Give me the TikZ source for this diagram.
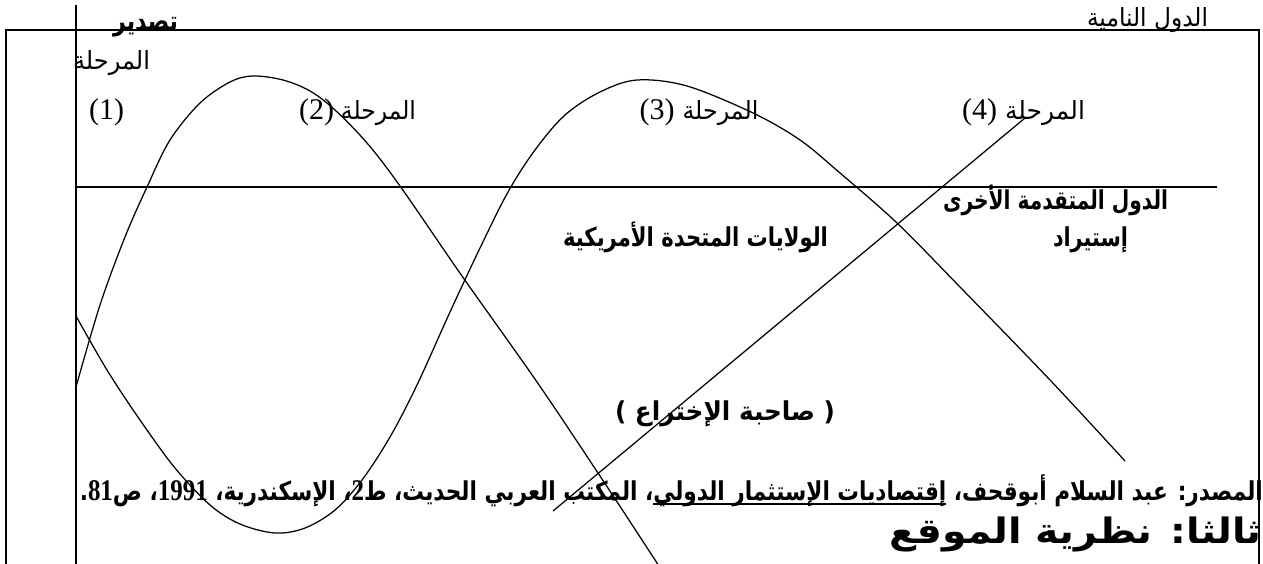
\documentclass[tikz,border=0pt]{standalone}
\usepackage{fontspec}
\usepackage{graphicx}
\setmainfont{Liberation Serif}
\newfontfamily\arabicfont[Script=Arabic]{DejaVu Sans}
\newfontfamily\dejafont{DejaVu Sans}
\newfontfamily\latfont{Liberation Serif}
\TeXXeTstate=1
\newlength\natw
\newcommand\fitto[2]{\settowidth\natw{#2}\pgfmathsetmacro\fitsx{#1/\natw}\scalebox{\fitsx}[1]{#2}}
\newcommand\arf[1]{\arabicfont\fontsize{#1}{#1}\selectfont}
\newcommand\arbf[1]{\arabicfont\bfseries\fontsize{#1}{#1}\selectfont}
\newcommand\lat[2]{{\latfont\fontsize{#1}{#1}\selectfont #2}}
\newcommand\latb[2]{{\latfont\bfseries\fontsize{#1}{#1}\selectfont #2}}
\newcommand\ulbox[1]{\hbox{\setbox0\hbox{#1}\rlap{\vrule width\wd0 height -2.8pt depth 4.8pt}\box0}}
\begin{document}
\begin{tikzpicture}[x=1pt,y=-1pt,
  frame/.style={line width=1.7pt},
  axisline/.style={line width=1.7pt},
  curveline/.style={line width=1.25pt, line join=round},
  lab/.style={inner sep=0pt, anchor=base},
  labr/.style={inner sep=0pt, anchor=base east}]
\useasboundingbox (0,0) rectangle (1263,563);
\begin{scope}
\clip (0,0) rectangle (1263,563);
% frame and axes
\draw[frame] (6,600) -- (6,30) -- (1259,30) -- (1259,600);
\draw[axisline] (76,5) -- (76,600);
\draw[axisline] (76,187) -- (1217,187);
% curve of the inventing country (USA)
\draw[curveline] plot[smooth,tension=0.55] coordinates {(76,387) (100,305) (125,237) (147,187) (170,140) (200,103) (230,82) (253,76) (283,80) (310,91) (335,110) (367,143) (400,186) (462,276) (537,382) (600,476) (657,563) (665,576)};
% curve of the other advanced countries
\draw[curveline] plot[smooth,tension=0.55] coordinates {(76,316) (107,370) (140,420) (175,468) (210,505) (240,524) (275,533) (305,528) (335,510) (362,480) (390,437) (417,385) (450,312) (480,248) (508,192) (535,150) (565,115) (600,92) (637,80) (687,86) (753,113) (800,140) (840,173) (897,223) (960,287) (1050,380) (1125,461)};
% line of the developing countries
\coordinate (devtop) at (1025,118);
\coordinate (devend) at (553,511);
\draw[curveline] (devtop) -- (devend);
% texts
\node[lab] (export) at (145.5,30) {\fitto{65}{{\arbf{27}\beginR تصدير\endR}}};
\node[lab] (developing) at (1147.5,26) {\fitto{121}{{\arf{25}\beginR الدول النامية\endR}}};
\node[lab] (stageA) at (111.5,69) {\fitto{77}{{\arf{25}\beginR المرحلة\endR}}};
\node[lab] (one) at (106.5,119) {\lat{30}{(1)}};
\node[lab] (stage2) at (357.5,119) {\lat{30}{(2)}\hspace{7pt}\fitto{75}{{\arf{25}\beginR المرحلة\endR}}};
\node[lab] (stage3) at (699,119) {\lat{30}{(3)}\hspace{8pt}\fitto{76}{{\arf{25}\beginR المرحلة\endR}}};
\node[lab] (stage4) at (1023.5,119) {\lat{30}{(4)}\hspace{8pt}\fitto{80}{{\arf{25}\beginR المرحلة\endR}}};
\node[lab] (others) at (1055.5,209) {\fitto{225}{{\arbf{26}\beginR الدول المتقدمة الأخرى\endR}}};
\node[lab] (imports) at (1090.5,246) {\fitto{75}{{\arbf{26}\beginR إستيراد\endR}}};
\node[lab] (usa) at (695.5,246) {\fitto{265}{{\arbf{26}\beginR الولايات المتحدة الأمريكية\endR}}};
\node[lab] (inventor) at (725,420) {\fitto{220}{{\dejafont\bfseries\fontsize{26}{26}\selectfont(\ }{\arbf{26}\beginR صاحبة الإختراع\endR}{\dejafont\bfseries\fontsize{26}{26}\selectfont\ )}}};
\node[labr] (source) at (1263,500) {\fitto{1183}{{\arbf{26}\beginR المصدر: عبد السلام أبوقحف، \ulbox{\beginR إقتصاديات الإستثمار الدولي\endR}، المكتب العربي الحديث، ط\latb{30}{2}، الإسكندرية، \beginL\latb{30}{1991}\endL، ص\beginL\latb{30}{81}\endL.\endR}}};
\node[labr] (title) at (1262,543) {\fitto{372}{{\arbf{35}\beginR ثالثا: نظرية الموقع\endR}}};
\end{scope}
\end{tikzpicture}
\end{document}
